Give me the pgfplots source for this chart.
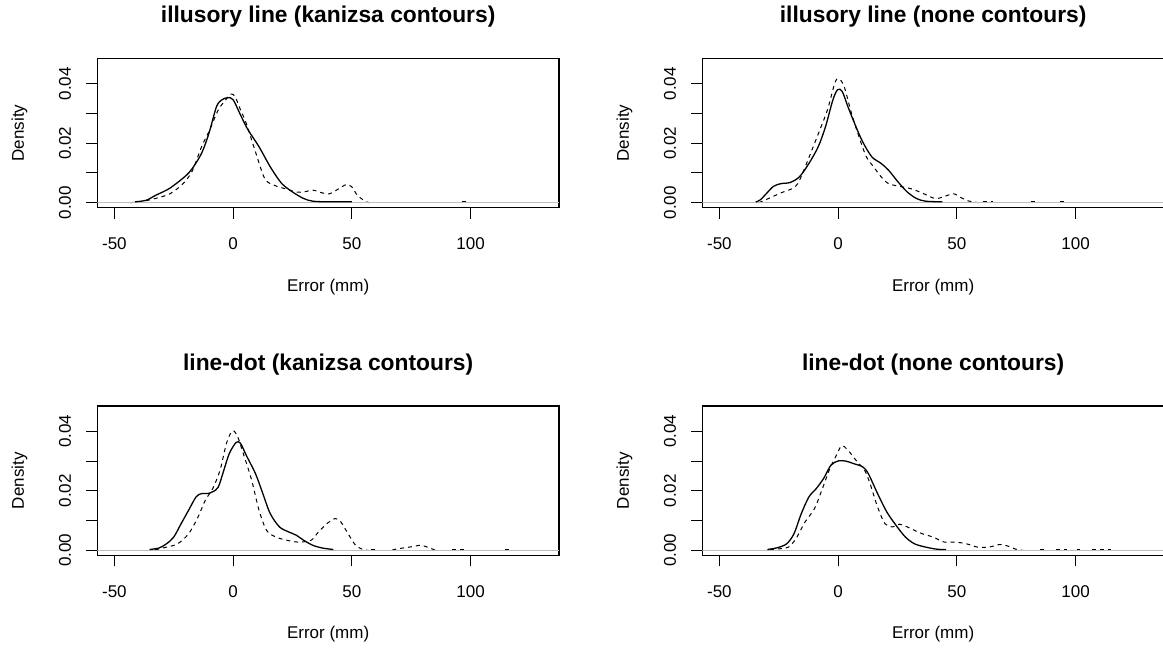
\documentclass[border=0pt]{standalone}
\usepackage{fontspec}
\setmainfont{Liberation Sans}
\usepackage{pgfplots}
\pgfplotsset{compat=1.18}
\definecolor{zeroline}{HTML}{BEBEBE}

% one R density panel: box 461.7 x 149.4 px, 1 px = 0.5pt
\pgfplotsset{
  densbox/.style={
    scale only axis, width=230.85pt, height=74.7pt,
    anchor=south west,
    xmin=-57.2, xmax=137.2, ymin=-0.00168, ymax=0.04854,
    xtick={-50,0,50,100}, xticklabels={-50,0,50,100},
    ytick={0,0.01,0.02,0.03,0.04}, yticklabels={0.00,,0.02,,0.04},
    tick align=outside, xtick pos=bottom, ytick pos=left,
    major tick length=5.5pt,
    axis line style={line width=0.55pt},
    tick style={black, line width=0.5pt},
    tick label style={font=\fontsize{8.5}{10}\selectfont},
    xticklabel style={anchor=center},
    xticklabel shift=12.65pt,
    yticklabel style={rotate=90, anchor=center},
    yticklabel shift=10.65pt,
    label style={font=\fontsize{8.5}{10}\selectfont},
    xlabel={Error (mm)},
    ylabel={Density},
    xlabel style={at={(axis description cs:0.5,-0.529)}, anchor=center},
    ylabel style={at={(axis description cs:-0.1685,0.5)}, anchor=center},
    every axis title shift=0pt,
    title style={at={(axis description cs:0.5,1.278)}, anchor=center,
                 font=\bfseries\fontsize{11.4}{13}\selectfont},
    scaled y ticks=false,
  },
  dens/.style={black, line width=0.65pt, smooth, tension=0.5},
  densd/.style={black, line width=0.5pt, smooth, tension=0.5,
                dash pattern=on 2pt off 2pt},
  tail/.style={densd, sharp plot, unbounded coords=jump},
  zero/.style={zeroline, line width=0.55pt},
}

\begin{document}
\begin{tikzpicture}
\useasboundingbox (0,0) rectangle (581.5pt,324pt);

% ---- illusory line, kanizsa ----
\begin{axis}[densbox, at={(48.65pt,220.15pt)},
    title={illusory line (kanizsa contours)}]
\addplot[densd] coordinates {
(-43.4,0) (-38,0.0005) (-32.8,0.0014) (-26.6,0.003) (-21.1,0.0064)
(-17.2,0.0107) (-13.3,0.0188) (-10.2,0.0239) (-6.25,0.0312) (-3.1,0.0346)
(-1,0.0365) (0.8,0.0357) (3.1,0.0312) (5.5,0.0267) (9.4,0.0171)
(13.3,0.0081) (17.2,0.0059) (21.9,0.0047) (26.6,0.0036) (29.7,0.0036)
(33.6,0.0042) (37.5,0.0033) (40.6,0.003) (44.5,0.0047) (47.7,0.0061)
(50,0.0053) (52.3,0.0025) (56,0.0003) (58,0)
};
\addplot[tail] coordinates {(96.5,0.0004) (99.5,0.0004)};
\addplot[zero] coordinates {(-57.2,0) (137.2,0)};
\addplot[dens] coordinates {
(-41.4,0.0003) (-36.7,0.0008) (-32.6,0.0025) (-26.8,0.0048) (-20.3,0.0088)
(-17.2,0.0115) (-13.3,0.0166) (-10.2,0.0233) (-7,0.0323) (-4.7,0.0346)
(-2.3,0.0353) (0,0.0346) (3.1,0.0295) (6.25,0.0245) (10.9,0.0188)
(15.6,0.0121) (20.3,0.0066) (25,0.0036) (29.7,0.0014) (33.6,0.0005)
(40,0.0003) (50,0.0003)
};
\end{axis}

% ---- illusory line, none ----
\begin{axis}[densbox, at={(351.15pt,220.15pt)},
    title={illusory line (none contours)}]
\addplot[densd] coordinates {
(-33.4,0) (-28.75,0.0016) (-24.1,0.0033) (-19.4,0.0047) (-17,0.0064)
(-14.7,0.0104) (-11.6,0.0166) (-7.7,0.0245) (-4.5,0.0312) (-1.4,0.0402)
(0.2,0.0417) (2.5,0.0391) (5.6,0.0301) (8.75,0.0222) (11.9,0.0154)
(15,0.012) (18.1,0.0087) (21.25,0.0064) (25.9,0.0055) (30.6,0.0047)
(35.3,0.0033) (40.8,0.0014) (44.7,0.0021) (48.6,0.003) (51.7,0.0017)
(54.8,0.0006) (57,0.0003) (59,0)
};
\addplot[tail] coordinates {
(61,0.0004) (65,0.0004) (70,nan) (81,0.0004) (83,0.0004) (88,nan)
(93.5,0.0004) (95,0.0004)
};
\addplot[zero] coordinates {(-57.2,0) (137.2,0)};
\addplot[dens] coordinates {
(-34.7,0.0002) (-32.7,0.001) (-30.3,0.003) (-27.2,0.0055) (-24.1,0.0064)
(-20.2,0.0068) (-16.3,0.0087) (-12.3,0.0132) (-8.4,0.0188) (-5.3,0.0256)
(-2.2,0.0346) (-0.2,0.038) (1.7,0.0374) (4.1,0.0323) (7.2,0.0261)
(10.3,0.0205) (14.2,0.0154) (18.1,0.0132) (21.25,0.0109) (25.2,0.007)
(29.1,0.0036) (33,0.0014) (36.9,0.0005) (43.9,0.0003)
};
\end{axis}

% ---- line-dot, kanizsa ----
\begin{axis}[densbox, at={(48.65pt,46.3pt)},
    title={line-dot (kanizsa contours)}]
\addplot[densd] coordinates {
(-32.8,0.0002) (-28.1,0.0011) (-23.4,0.0022) (-18.75,0.0056) (-14.8,0.0112)
(-11.7,0.0169) (-8.6,0.0208) (-5.5,0.027) (-2.8,0.036) (-0.3,0.0402)
(1.9,0.0382) (4.7,0.0315) (7.8,0.0236) (10.9,0.0135) (14.1,0.0067)
(18,0.0045) (22.7,0.0034) (27.3,0.0028) (32.8,0.0034) (35.9,0.0062)
(39.8,0.0092) (43,0.0107) (45.3,0.0096) (48.4,0.0056) (51.6,0.0017)
(54.7,0.0003) (57,0)
};
\addplot[densd] coordinates {
(67,0.0001) (69,0.0005) (75,0.0012) (79,0.0017) (82.8,0.0008) (85,0.0001)
};
\addplot[tail] coordinates {
(58,0.0003) (60,0.0003) (63,nan) (92,0.0003) (97.6,0.0003) (105,nan)
(114.5,0.0003) (116.5,0.0003)
};
\addplot[zero] coordinates {(-57.2,0) (137.2,0)};
\addplot[dens] coordinates {
(-35.2,0.0003) (-31.25,0.0008) (-28.1,0.0022) (-25,0.0045) (-21.9,0.009)
(-18.75,0.0135) (-15.6,0.018) (-13.3,0.0191) (-10.9,0.0191) (-8.6,0.0197)
(-6.25,0.0213) (-3.9,0.027) (-1.6,0.0326) (1.25,0.0363) (3.1,0.036)
(5.5,0.032) (9.4,0.0258) (12.5,0.0191) (15.6,0.0124) (19.5,0.0079)
(23.4,0.0062) (26.6,0.0051) (29.7,0.0034) (33.6,0.0017) (37.5,0.0008)
(42.2,0.0003)
};
\end{axis}

% ---- line-dot, none ----
\begin{axis}[densbox, at={(351.15pt,46.3pt)},
    title={line-dot (none contours)}]
\addplot[densd] coordinates {
(-28.75,0.0002) (-24.1,0.0006) (-20.9,0.0011) (-17.8,0.0039) (-13.9,0.0096)
(-10,0.014) (-6.9,0.0202) (-3.75,0.027) (-1.4,0.0309) (1.4,0.0351)
(4.1,0.0337) (8,0.0298) (11.1,0.027) (13.4,0.0225) (16.6,0.0146)
(19.7,0.009) (22.8,0.0079) (25.9,0.0088) (29.1,0.0079) (32.2,0.0067)
(36.1,0.0054) (40,0.0045) (44.7,0.0028) (49.4,0.0028) (54.1,0.0022)
(58.75,0.0011) (63.4,0.0011) (68.1,0.002) (71.25,0.0015) (75.2,0.0003)
(78,0)
};
\addplot[tail] coordinates {
(85,0.0003) (86.5,0.0003) (89,nan) (91.6,0.0004) (96.25,0.0004) (98,nan)
(100.5,0.0003) (101.8,0.0003) (104,nan) (107,0.0004) (115,0.0004)
};
\addplot[zero] coordinates {(-57.2,0) (137.2,0)};
\addplot[dens] coordinates {
(-29.8,0.0003) (-25.6,0.0009) (-21.7,0.0022) (-18.6,0.0056) (-15.5,0.0124)
(-12.3,0.018) (-9.2,0.0208) (-6.1,0.0242) (-3,0.0287) (0.2,0.0301)
(3.3,0.03) (6.4,0.0292) (10.3,0.0281) (12.7,0.0258) (16.6,0.0191)
(20.5,0.0129) (24.4,0.0084) (28.3,0.0045) (32.2,0.0022) (36.9,0.0011)
(41.6,0.0004) (45.5,0.0003)
};
\end{axis}
\end{tikzpicture}
\end{document}
